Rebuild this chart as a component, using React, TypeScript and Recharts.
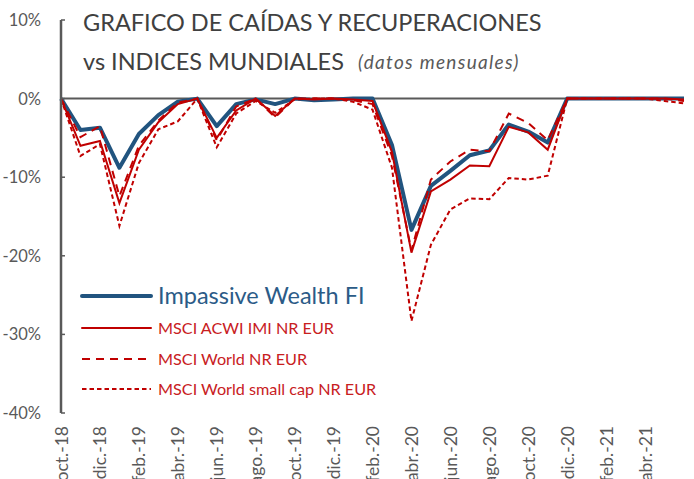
import React from 'react';
import { LineChart, Line, XAxis, YAxis, ReferenceLine } from 'recharts';

const months = [
  'oct.-18', 'nov.-18', 'dic.-18', 'ene.-19', 'feb.-19', 'mar.-19', 'abr.-19', 'may.-19',
  'jun.-19', 'jul.-19', 'ago.-19', 'sept.-19', 'oct.-19', 'nov.-19', 'dic.-19', 'ene.-20',
  'feb.-20', 'mar.-20', 'abr.-20', 'may.-20', 'jun.-20', 'jul.-20', 'ago.-20', 'sept.-20',
  'oct.-20', 'nov.-20', 'dic.-20', 'ene.-21', 'feb.-21', 'mar.-21', 'abr.-21', 'may.-21', 'jun.-21',
];

// drawdowns in %
const impassive = [
  0, -4.0, -3.7, -8.8, -4.5, -2.1, -0.4, 0, -3.5, -0.7, -0.1, -0.7, 0, -0.2, -0.1, 0,
  0, -5.9, -16.7, -11.1, -9.2, -7.2, -6.6, -3.3, -4.2, -5.6, 0, 0, 0, 0, 0, 0, 0,
];
const acwiImi = [
  0, -6.0, -5.4, -13.3, -6.5, -3.0, -0.7, 0, -5.0, -1.5, 0, -2.2, 0, -0.1, 0, -0.1,
  -0.3, -6.8, -19.6, -11.8, -10.3, -8.5, -8.6, -3.6, -4.3, -6.5, 0, 0, 0, 0, 0, 0, -0.1,
];
const worldNr = [
  0, -4.9, -3.5, -12.4, -6.0, -2.8, -0.5, 0, -5.3, -1.0, 0, -2.4, 0, 0, 0, -0.2,
  -0.7, -7.3, -19.3, -10.3, -8.0, -6.5, -6.7, -1.9, -3.1, -5.3, 0, 0, 0, 0, 0, 0, -0.3,
];
const worldSmallCap = [
  0, -7.3, -5.8, -16.2, -8.2, -3.9, -2.9, 0, -6.2, -1.9, -0.3, -1.8, -0.1, 0, 0, -0.4,
  -1.4, -8.8, -28.3, -18.6, -14.1, -12.7, -12.8, -10.1, -10.3, -9.8, 0, 0, 0, 0, 0, -0.3, -0.6,
];

const yTicks = [-40, -30, -20, -10, 0, 10];
const xTicks = months.filter((_, i) => i % 2 === 0 && i <= 30);

const data = months.map((m, i) => ({
  m,
  imp: impassive[i],
  acwi: acwiImi[i],
  world: worldNr[i],
  small: worldSmallCap[i],
}));

const BLUE = '#21547F';
const RED = '#C00000';
const GREY = '#595959';
const FONT = 'Lato, "Open Sans", sans-serif';

const YTick = (props: any) => {
  const { y, payload } = props;
  return (
    <g>
      <line x1={61} x2={65} y1={y} y2={y} stroke={GREY} strokeWidth={1.5} />
      <text x={41} y={y} textAnchor="end" dominantBaseline="central" fill={GREY} fontSize={16.5} fontFamily={FONT}>
        {`${payload.value}%`}
      </text>
    </g>
  );
};

const XTick = (props: any) => {
  const { x, payload } = props;
  return (
    <text
      x={x}
      y={426}
      transform={`rotate(-90, ${x}, 426)`}
      textAnchor="end"
      dominantBaseline="central"
      fill={GREY}
      fontSize={17.5}
      fontFamily={FONT}
    >
      {payload.value}
    </text>
  );
};

const legendItems = [
  { label: 'Impassive Wealth FI', color: BLUE, width: 4, dash: undefined, y: 296, fs: 23.5, text: '#2B5B87' },
  { label: 'MSCI ACWI IMI NR EUR', color: RED, width: 2, dash: undefined, y: 328, fs: 16.2, text: '#C8201E' },
  { label: 'MSCI World NR EUR', color: RED, width: 2, dash: '8 6', y: 359, fs: 16.2, text: '#C8201E' },
  { label: 'MSCI World small cap NR EUR', color: RED, width: 2, dash: '4.5 3', y: 389, fs: 16.2, text: '#C8201E' },
];

const App: React.FC = () => {
  return (
    <div style={{ position: 'absolute', left: 0, top: 0, width: 694, height: 479, overflow: 'hidden', background: '#fff' }}>
      <LineChart width={694} height={479} data={data} margin={{ top: 20, right: 10, bottom: 0, left: 0 }}>
        <XAxis dataKey="m" ticks={xTicks} interval={0} height={66} axisLine={false} tickLine={false} tick={XTick} />
        <YAxis
          type="number"
          domain={[-40, 10]}
          ticks={yTicks}
          interval={0}
          width={61}
          tickLine={false}
          axisLine={{ stroke: GREY, strokeWidth: 2.5 }}
          tick={YTick}
        />
        <ReferenceLine y={0} stroke={GREY} strokeWidth={2} />
        <Line type="linear" dataKey="imp" stroke={BLUE} strokeWidth={4} dot={false} isAnimationActive={false} strokeLinejoin="round" />
        <Line type="linear" dataKey="acwi" stroke={RED} strokeWidth={2} dot={false} isAnimationActive={false} />
        <Line type="linear" dataKey="world" stroke={RED} strokeWidth={2} strokeDasharray="8 6" dot={false} isAnimationActive={false} />
        <Line type="linear" dataKey="small" stroke={RED} strokeWidth={2} strokeDasharray="4.5 3" dot={false} isAnimationActive={false} />
      </LineChart>

      <svg width={694} height={479} style={{ position: 'absolute', left: 0, top: 0, pointerEvents: 'none' }}>
        <text x={83} y={31} fontSize={23.5} fill="#404040" fontFamily={FONT}>
          GRAFICO DE CAÍDAS Y RECUPERACIONES
        </text>
        <text x={83} y={70} fontSize={23.5} fill="#404040" fontFamily={FONT}>
          vs INDICES MUNDIALES
        </text>
        <text x={358} y={69} fontSize={19} letterSpacing={1.3} fontStyle="italic" fill={GREY} fontFamily={FONT}>
          (datos mensuales)
        </text>
        {legendItems.map((it) => (
          <g key={it.label}>
            <line
              x1={82}
              x2={151}
              y1={it.y}
              y2={it.y}
              stroke={it.color}
              strokeWidth={it.width}
              strokeDasharray={it.dash}
              strokeLinecap={it.dash ? 'butt' : 'round'}
            />
            <text x={158} y={it.y + it.fs * 0.358} fontSize={it.fs} fill={it.text} fontFamily={FONT}>
              {it.label}
            </text>
          </g>
        ))}
      </svg>
    </div>
  );
};

export default App;
